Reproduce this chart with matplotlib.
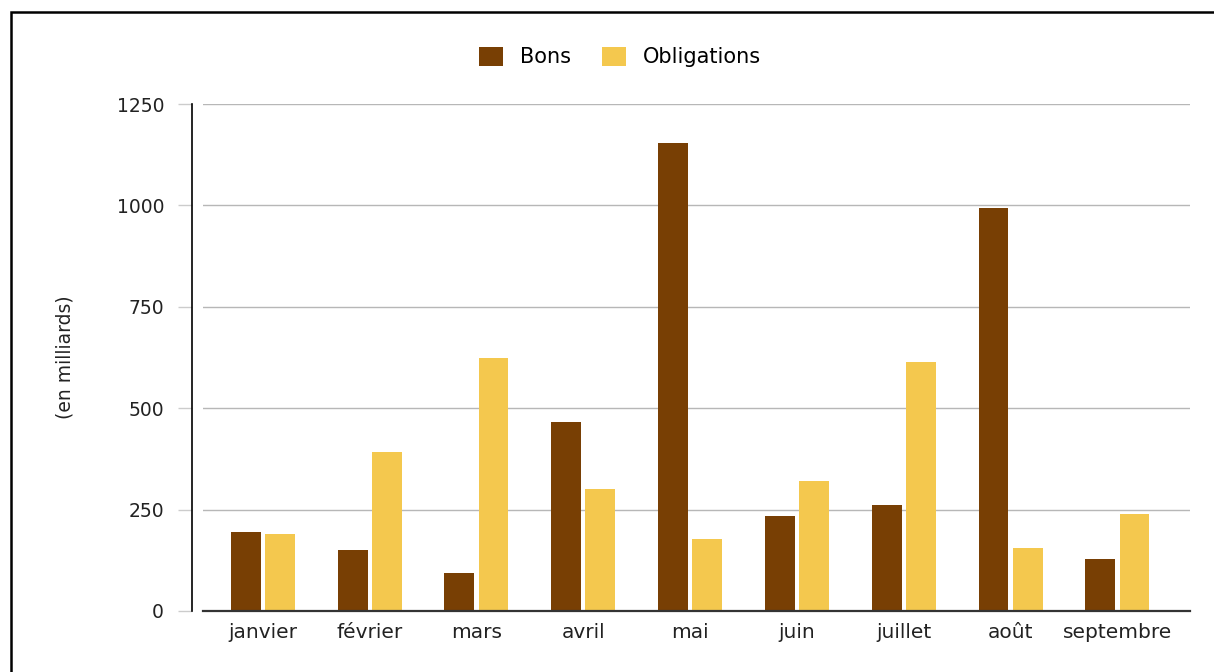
import numpy as np
import matplotlib.pyplot as plt
from matplotlib.patches import Rectangle

plt.rcParams['font.family'] = ['DejaVu Sans']

mois = ["janvier", "février", "mars", "avril", "mai", "juin", "juillet", "août", "septembre"]
bons = [195, 150, 94, 466, 1154, 235, 262, 994, 128]
obligations = [190, 392, 624, 301, 178, 320, 614, 155, 239]
y_ticks = [0, 250, 500, 750, 1000, 1250]

W, H = 1214, 672
fig = plt.figure(figsize=(W / 100, H / 100), dpi=100)
ax = fig.add_axes([203 / W, 1 - 611 / H, (1190 - 203) / W, (611 - 104) / H])

# cadre noir autour du graphique
fig.patches.append(Rectangle((11 / W, -0.2), 1.2, 1.2 - 12 / H,
                             transform=fig.transFigure, fill=False,
                             edgecolor="black", linewidth=1.8))

for s in ["top", "right"]:
    ax.spines[s].set_visible(False)
ax.spines["left"].set_position(("outward", 8))
ax.spines["left"].set_color("black")
ax.spines["left"].set_linewidth(1.2)
ax.spines["bottom"].set_color("#333333")
ax.spines["bottom"].set_linewidth(1.6)
ax.spines["bottom"].set_zorder(4)

x = np.arange(len(mois))
w = 0.28
ax.bar(x - 0.16, bons, w, color="#783f04", label="Bons", zorder=3)
ax.bar(x + 0.16, obligations, w, color="#f4c84e", label="Obligations", zorder=3)

ax.set_xlim(-0.56, 8.68)
ax.set_ylim(0, 1250)
ax.set_yticks(y_ticks)
ax.set_yticklabels([str(v) for v in y_ticks], fontsize=13.5, color="#222222")
ax.set_xticks(x)
ax.set_xticklabels(mois, fontsize=14.5, color="#222222")
ax.tick_params(axis="x", length=0, pad=9)
ax.tick_params(axis="y", length=10, color="#cccccc", width=1, pad=10)

ax.grid(axis="y", color="#b7b7b7", linewidth=1, zorder=0)

ax.set_ylabel("(en milliards)", fontsize=13.5, color="#222222", labelpad=30)

fig.legend(loc="center", bbox_to_anchor=(620 / W, 1 - 57 / H), ncol=2,
           frameon=False, fontsize=15, handlelength=1.15, handleheight=1.05,
           columnspacing=1.5, handletextpad=0.8)

fig.savefig("out.png", dpi=100)
